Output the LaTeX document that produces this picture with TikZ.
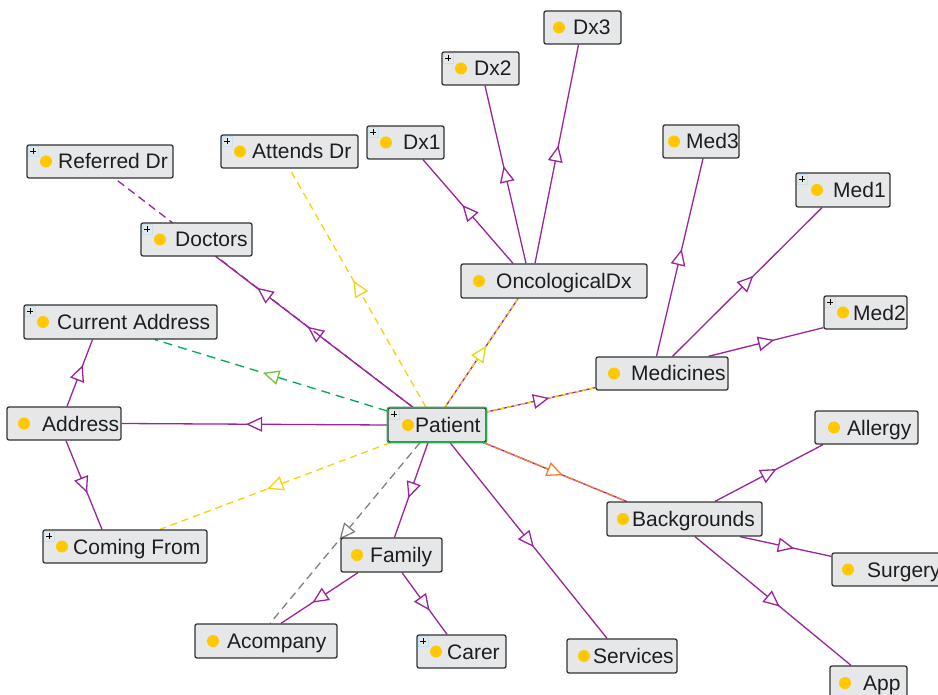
\documentclass[tikz,border=0pt]{standalone}
\usepackage{fontspec}
\setmainfont{Liberation Sans}
\usetikzlibrary{fit,calc,decorations.markings}
\definecolor{purp}{RGB}{155,35,155}
\definecolor{yel}{RGB}{250,210,0}
\definecolor{lime}{RGB}{215,225,20}
\definecolor{grn}{RGB}{0,170,80}
\definecolor{lgrn}{RGB}{120,190,60}
\definecolor{gry}{RGB}{128,128,128}
\definecolor{orng}{RGB}{240,128,48}
\definecolor{boxfill}{RGB}{230,231,233}
\definecolor{boxline}{RGB}{50,50,50}
\definecolor{dotc}{RGB}{255,200,0}
\definecolor{txt}{RGB}{30,30,30}
\definecolor{pgreen}{RGB}{40,170,80}
\definecolor{plusbox}{RGB}{200,225,240}
\pgfdeclarelayer{bg}
\pgfsetlayers{bg,main}
\newcommand\cls[9]{%
  \node[box, fit={(#2,#3) (#4,#5)}] (#1) {};
  \fill[dotc] (#7,#6) circle (6);
  \node[lbl] (#1-t) at (#8,#6+7.5) {#9};
}
\newcommand\plusic[1]{%
  \draw[plusbox, line width=0.8pt] ($(#1.north west)+(2,2)$) rectangle ($(#1.north west)+(12,12)$);
  \draw[black, line width=0.9pt] ($(#1.north west)+(4,7)$) -- ($(#1.north west)+(10,7)$);
  \draw[black, line width=0.9pt] ($(#1.north west)+(7,4)$) -- ($(#1.north west)+(7,10)$);
}
\begin{document}
\begin{tikzpicture}[x=1pt,y=-1pt,
  box/.style={draw=boxline, fill=boxfill, rounded corners=2pt, line width=1.3pt, inner sep=0pt},
  lbl/.style={anchor=base west, inner sep=0pt, text=txt, font=\fontsize{21}{25}\selectfont},
  tri/.style={postaction={decorate}, decoration={markings, mark=at position 0.5 with {\draw[solid, line width=1.3pt, draw=#1, fill=white, line join=miter] (7pt,0pt) -- (-7pt,6.5pt) -- (-7pt,-6.5pt) -- cycle;}}},
  rel/.style={draw=purp, line width=1.3pt, tri=purp},
  dsh/.style={draw=#1, line width=1.3pt, dash pattern=on 7pt off 5pt},
  two/.style={draw=purp, line width=1.3pt, postaction={draw=#1, line width=1.3pt, dash pattern=on 4pt off 3pt}}
]
\useasboundingbox (0,0) rectangle (938,695);
\clip (0,0) rectangle (938,695);

% classes
\cls{pat}{388}{408}{486}{442}{425}{408}{415}{Patient}
\draw[pgreen, line width=1.3pt, rounded corners=2pt] (pat.north west) rectangle (pat.south east);
\cls{ref}{27}{145}{173}{178}{161.5}{46}{58}{Referred Dr}
\cls{doc}{141}{223}{252}{256}{239.5}{160}{175}{Doctors}
\cls{att}{221}{135}{358}{168}{151.5}{240}{252}{Attends Dr}
\cls{dxa}{367}{126}{444}{159}{142.5}{386}{403}{Dx1}
\cls{dxb}{442}{52}{519}{85}{68.5}{461}{474}{Dx2}
\cls{dxc}{544}{11}{621}{44}{27.5}{559}{573}{Dx3}
\cls{onc}{461}{264}{647}{298}{281}{479}{496}{OncologicalDx}
\cls{med}{596}{357}{728}{390}{373.5}{614}{631}{Medicines}
\cls{medc}{663}{125}{739}{158}{141.5}{674}{686}{Med3}
\cls{meda}{796}{173}{890}{207}{190}{817}{833}{Med1}
\cls{medb}{824}{296}{907}{329}{312.5}{843}{853}{Med2}
\cls{ca}{24}{305}{217}{339}{322}{43}{57}{Current Address}
\cls{addr}{7}{407}{121}{440}{423.5}{24}{42}{Address}
\cls{cf}{43}{530}{207}{563}{546.5}{62}{73}{Coming From}
\cls{fam}{341}{538}{442}{572}{555}{357}{370}{Family}
\cls{acomp}{195}{624}{337}{658}{641}{213}{227}{Acompany}
\cls{carer}{417}{635}{506}{668}{651.5}{436}{447}{Carer}
\cls{svc}{567}{639}{677}{673}{656}{584}{593}{Services}
\cls{bkg}{607}{502}{762}{536}{519}{623}{632}{Backgrounds}
\cls{all}{815}{411}{918}{444}{427.5}{834}{847}{Allergy}
\cls{surg}{832}{553}{950}{586}{569.5}{848}{867}{Surgery}
\cls{app}{830}{666}{907}{700}{683}{845}{863}{App}

\plusic{pat}\plusic{ref}\plusic{doc}\plusic{att}\plusic{dxa}\plusic{dxb}
\plusic{meda}\plusic{medb}\plusic{ca}\plusic{cf}\plusic{carer}

\begin{pgfonlayer}{bg}
% solid purple relations
\draw[rel] (pat.west) -- (addr.east);
\draw[rel] ($(addr.north)+(3,0)$) -- ($(ca.south)+(-28,0)$);
\draw[rel] ($(addr.south)+(2,0)$) -- ($(cf.north)+(-23,0)$);
\draw[rel] ($(pat.north)+(-24,0)$) -- ($(doc.south)+(19.5,0)$);
\draw[rel] ($(pat.south)+(-9,0)$) -- ($(fam.north)+(3,0)$);
\draw[rel] ($(fam.south)+(-33.5,0)$) -- ($(acomp.north)+(15,0)$);
\draw[rel] ($(fam.south)+(10.5,0)$) -- ($(carer.north)+(-14.5,0)$);
\draw[rel] ($(pat.south)+(13,0)$) -- ($(svc.north)+(-15,0)$);
\draw[rel] ($(onc.north)+(-41,0)$) -- ($(dxa.south)+(17.5,0)$);
\draw[rel] ($(onc.north)+(-28,0)$) -- ($(dxb.south)+(4.5,0)$);
\draw[rel] ($(onc.north)+(-19,0)$) -- ($(dxc.south)+(-4,0)$);
\draw[rel] ($(med.north)+(-5.5,0)$) -- ($(medc.south)+(2,0)$);
\draw[rel] ($(med.north)+(10.5,0)$) -- ($(meda.south)+(-21,0)$);
\draw[rel] ($(med.north)+(46.5,0)$) -- ($(medb.south west)+(0,-2)$);
\draw[rel] ($(bkg.north)+(30.5,0)$) -- ($(all.south)+(-43.5,0)$);
\draw[rel] ($(bkg.south)+(55.5,0)$) -- ($(surg.north west)+(0,4)$);
\draw[rel] ($(bkg.south)+(10.5,0)$) -- ($(app.north)+(-17.5,0)$);
% dashed relations
\draw[dsh=purp, dash pattern=on 8pt off 5pt, tri=purp] ($(pat.north)+(-24,0)$) -- ($(ref.south)+(15,0)$);
\draw[dsh=yel, tri=yel] ($(pat.north)+(-11,0)$) -- (att.south);
\draw[dsh=grn, dash pattern=on 9pt off 6pt, tri=lgrn] ($(pat.west)+(0,-14)$) -- ($(ca.south)+(34.5,0)$);
\draw[dsh=yel, tri=yel] ($(pat.south west)+(3,0)$) -- ($(cf.north)+(35,0)$);
\draw[dsh=gry, dash pattern=on 8pt off 5pt, tri=gry] ($(pat.south)+(-17,0)$) -- ($(acomp.north)+(4,0)$);
% two-tone relations
\draw[two=yel, tri=lime] ($(pat.north)+(8,0)$) -- ($(onc.south)+(-36,0)$);
\draw[two=yel, tri=purp] ($(pat.east)+(0,-13)$) -- ($(med.south west)+(0,-3)$);
\draw[draw=purp, line width=1.3pt, postaction={draw=orng, line width=1.3pt, dash pattern=on 9pt off 2pt}, tri=orng] ($(pat.south east)+(-3,0)$) -- ($(bkg.north west)+(20,0)$);
\end{pgfonlayer}
\end{tikzpicture}
\end{document}
